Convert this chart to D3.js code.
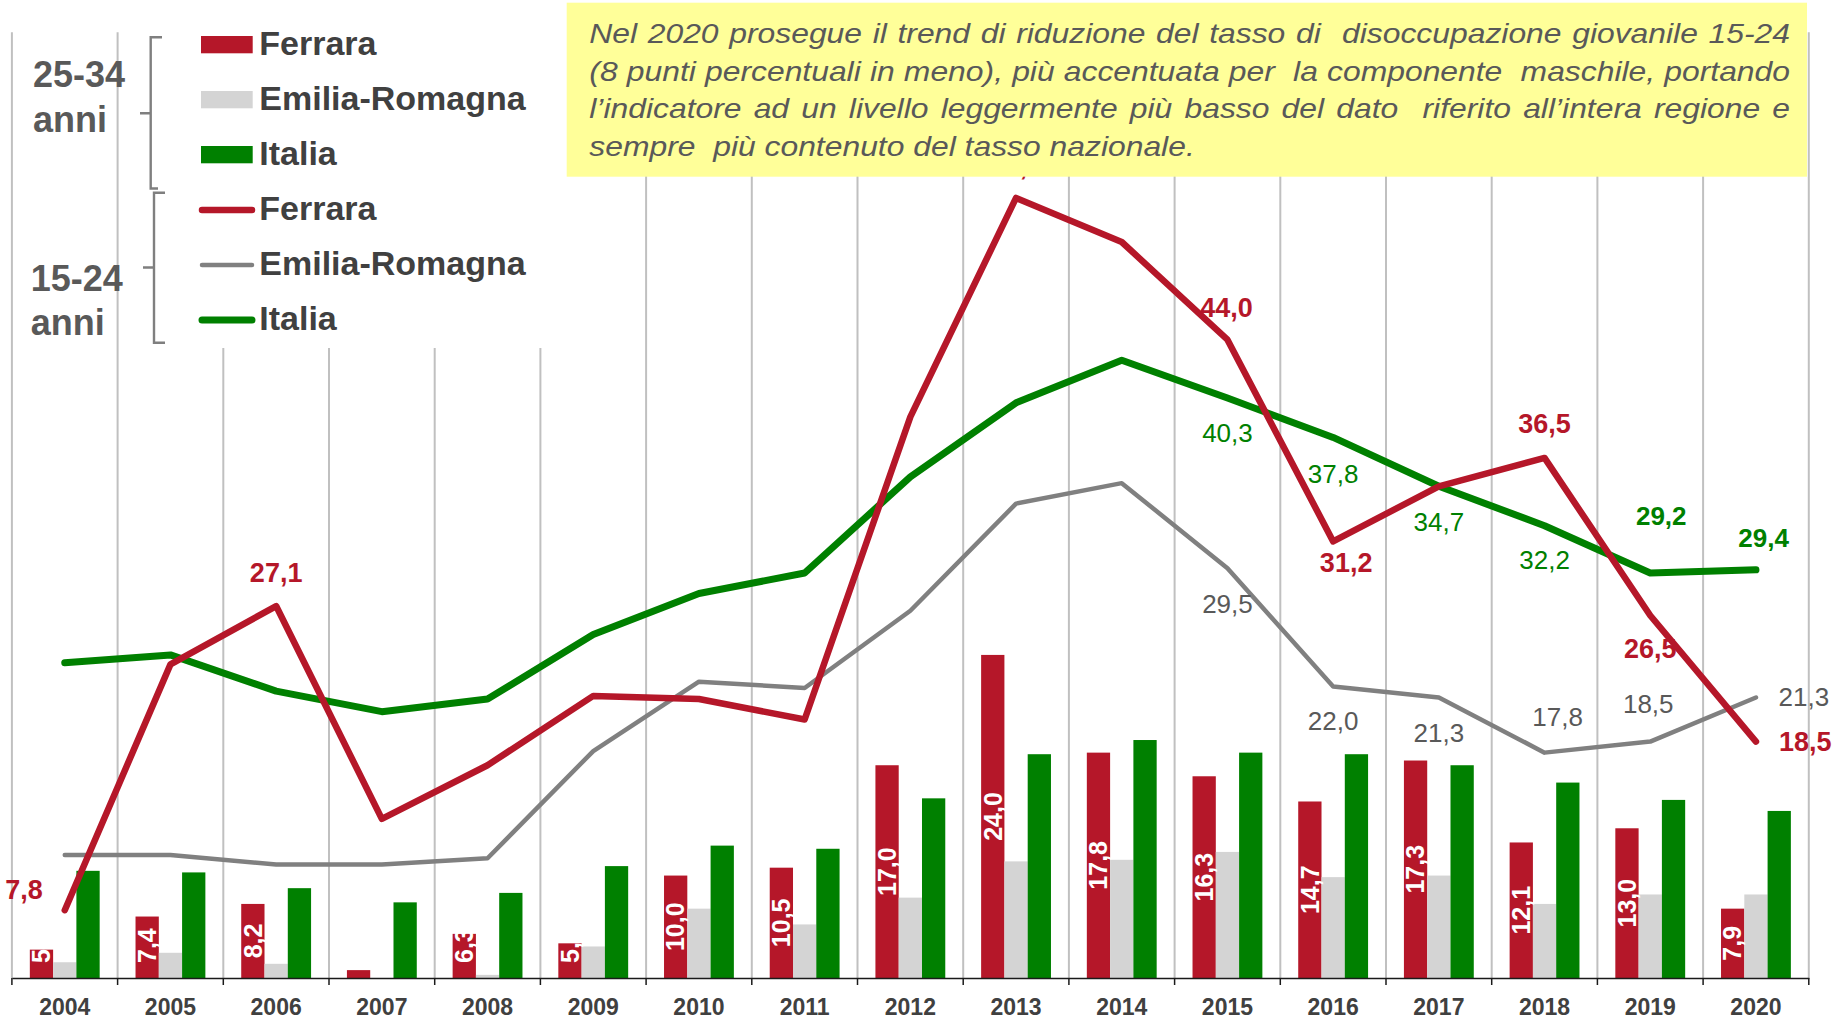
<!DOCTYPE html>
<html>
<head>
<meta charset="utf-8">
<script src="https://d3js.org/d3.v7.min.js"></script>
<style>
  body { margin: 0; background: #fff; }
  svg { display: block; font-family: "Liberation Sans", Arial, sans-serif; }
</style>
</head>
<body>
<div id="chart"></div>
<script>

// Data: unemployment rates (%)

const years = ["2004", "2005", "2006", "2007", "2008", "2009", "2010", "2011", "2012",
               "2013", "2014", "2015", "2016", "2017", "2018", "2019", "2020"];

// 25-34 anni (bars)
const ferrara25 = [5.3, 7.4, 8.2, 4.0, 6.3, 5.7, 10.0, 10.5, 17.0, 24.0, 17.8, 16.3, 14.7, 17.3, 12.1, 13.0, 7.9];
const emilia25  = [4.5, 5.1, 4.4, 3.4, 3.7, 5.5, 7.9, 6.9, 8.6, 10.9, 11.0, 11.5, 9.9, 10.0, 8.2, 8.8, 8.8];
const italia25  = [10.3, 10.2, 9.2, 8.3, 8.9, 10.6, 11.9, 11.7, 14.9, 17.7, 18.6, 17.8, 17.7, 17.0, 15.9, 14.8, 14.1];

// 15-24 anni (lines)
const ferrara15 = [7.8, 23.4, 27.1, 13.6, 17.0, 21.4, 21.2, 19.9, 39.1, 53.0, 50.2, 44.0, 31.2, 34.7, 36.5, 26.5, 18.5];
const emilia15  = [11.3, 11.3, 10.7, 10.7, 11.1, 17.9, 22.3, 21.9, 26.8, 33.6, 34.9, 29.5, 22.0, 21.3, 17.8, 18.5, 21.3];
const italia15  = [23.5, 24.0, 21.7, 20.4, 21.2, 25.3, 27.9, 29.2, 35.3, 40.0, 42.7, 40.3, 37.8, 34.7, 32.2, 29.2, 29.4];

const seriesNames = ["Ferrara", "Emilia-Romagna", "Italia"];
const groupNames = [["25-34", "anni"], ["15-24", "anni"]];

const noteLines = [
  "Nel 2020 prosegue il trend di riduzione del tasso di  disoccupazione giovanile 15-24",
  "(8 punti percentuali in meno), più accentuata per  la componente  maschile, portando",
  "l’indicatore ad un livello leggermente più basso del dato  riferito all’intera regione e",
  "sempre  più contenuto del tasso nazionale."
];


// Layout

const width = 1837;
const height = 1019;
const plot = {left: 11.9, right: 1808.8, top: 32.3, bottom: 978};
const yMin = 3.5;      // hidden value axis starts a bit above zero
const pxPerUnit = 15.76;

const colors = {ferrara: "#b51729", emilia: "#d4d4d4", italia: "#008000", emiliaLine: "#808080"};
const fmt = v => d3.format(".1f")(v).replace(".", ",");

const svg = d3.select("#chart")
  .append("svg")
  .attr("width", width)
  .attr("height", height);

svg.append("rect").attr("width", width).attr("height", height).attr("fill", "#fff");

// Scales
const x = d3.scaleBand()
  .domain(years)
  .range([plot.left, plot.right]);

const xIn = d3.scaleBand()
  .domain(["fe", "er", "it"])
  .range([0, x.bandwidth()])
  .paddingOuter(0.77);

const y = d3.scaleLinear()
  .domain([yMin, 60])
  .range([plot.bottom, plot.bottom - (60 - yMin) * pxPerUnit]);

const cx = i => x(years[i]) + x.bandwidth() / 2;

// Vertical gridlines between categories
const bounds = years.map(d => x(d)).concat([plot.right]);
svg.append("g")
  .selectAll("line")
  .data(bounds)
  .join("line")
    .attr("x1", d => d).attr("x2", d => d)
    .attr("y1", plot.top).attr("y2", plot.bottom)
    .attr("stroke", "#c0c0c0")
    .attr("stroke-width", 2);

/*

  Bars (25-34)

*/
const barSeries = [
  {key: "fe", values: ferrara25, color: colors.ferrara},
  {key: "er", values: emilia25, color: colors.emilia},
  {key: "it", values: italia25, color: colors.italia}
];

svg.append("g")
  .selectAll("g")
  .data(barSeries)
  .join("g")
    .attr("fill", s => s.color)
  .selectAll("rect")
  .data(s => s.values.map((v, i) => ({key: s.key, v: v, i: i})))
  .join("rect")
    .attr("x", d => x(years[d.i]) + xIn(d.key))
    .attr("y", d => Math.min(y(d.v), plot.bottom))
    .attr("width", xIn.bandwidth())
    .attr("height", d => Math.max(0, plot.bottom - y(d.v)));

// Category axis
svg.append("g")
  .attr("transform", `translate(0,${plot.bottom})`)
  .call(d3.axisBottom(x).tickSize(0).tickPadding(20.7))
  .call(g => g.select(".domain").attr("stroke", "#1a1a1a").attr("stroke-width", 1.5))
  .call(g => g.selectAll("text")
    .attr("font-family", "Liberation Sans, Arial, sans-serif")
    .attr("font-size", 23)
    .attr("font-weight", "bold")
    .attr("fill", "#404040"));

svg.append("g")
  .selectAll("line")
  .data(bounds)
  .join("line")
    .attr("x1", d => d).attr("x2", d => d)
    .attr("y1", plot.bottom).attr("y2", plot.bottom + 7)
    .attr("stroke", "#1a1a1a")
    .attr("stroke-width", 1.5);

/*

  Lines (15-24)

*/
const lineSeries = [
  {values: emilia15, color: colors.emiliaLine, w: 4.5},
  {values: italia15, color: colors.italia, w: 7},
  {values: ferrara15, color: colors.ferrara, w: 6.5}
];

const line = d3.line()
  .x((d, i) => cx(i))
  .y(d => y(d));

svg.append("g")
  .selectAll("path")
  .data(lineSeries)
  .join("path")
    .attr("d", s => line(s.values))
    .attr("fill", "none")
    .attr("stroke", s => s.color)
    .attr("stroke-width", s => s.w)
    .attr("stroke-linejoin", "round")
    .attr("stroke-linecap", "round");

// Line labels: placement is style only
const ferrara15Labels = [
  {i: 0, anchor: "end", dx: -22, dy: -11},
  {i: 2, anchor: "middle", dx: 0, dy: -24},
  {i: 9, anchor: "middle", dx: 0, dy: -23},
  {i: 11, anchor: "middle", dx: -1, dy: -23},
  {i: 12, anchor: "middle", dx: 13, dy: 31},
  {i: 14, anchor: "middle", dx: 0, dy: -25},
  {i: 15, anchor: "middle", dx: 0, dy: 42},
  {i: 16, anchor: "start", dx: 23, dy: 9.5}
];
const emilia15Labels = [
  {i: 11, anchor: "middle", dx: 0, dy: 45},
  {i: 12, anchor: "middle", dx: 0, dy: 43.5},
  {i: 13, anchor: "middle", dx: 0, dy: 45},
  {i: 14, anchor: "middle", dx: 13, dy: -27},
  {i: 15, anchor: "middle", dx: -2, dy: -29},
  {i: 16, anchor: "start", dx: 22.6, dy: 9}
];
const italia15Labels = [
  {i: 11, anchor: "middle", dx: 0, dy: 44},
  {i: 12, anchor: "middle", dx: 0, dy: 45.5},
  {i: 13, anchor: "middle", dx: 0, dy: 44.7},
  {i: 14, anchor: "middle", dx: 0, dy: 43.6},
  {i: 15, anchor: "middle", dx: 11, dy: -47.7, bold: true},
  {i: 16, anchor: "middle", dx: 7.6, dy: -23, bold: true}
];

function lineLabels(values, placements, color, boldAll, size) {
  svg.append("g")
    .selectAll("text")
    .data(placements)
    .join("text")
      .attr("x", p => cx(p.i) + p.dx)
      .attr("y", p => y(values[p.i]) + p.dy)
      .attr("text-anchor", p => p.anchor)
      .attr("font-size", p => (boldAll || p.bold) ? size : 26)
      .attr("font-weight", p => (boldAll || p.bold) ? "bold" : "normal")
      .attr("fill", color)
      .text(p => fmt(values[p.i]));
}
lineLabels(emilia15, emilia15Labels, "#595959", false, 26);
lineLabels(italia15, italia15Labels, colors.italia, false, 26);
lineLabels(ferrara15, ferrara15Labels, colors.ferrara, true, 27);

// White labels inside the Ferrara bars
const barFont = 25;
svg.append("g")
  .selectAll("text")
  .data(ferrara25)
  .join("text")
    .attr("font-size", barFont)
    .attr("font-weight", "bold")
    .attr("fill", "#fff")
    .attr("text-anchor", "middle")
    .text(d => fmt(d))
    .attr("transform", function(d, i) {
      const len = this.getComputedTextLength();
      const bx = x(years[i]) + xIn("fe") + xIn.bandwidth() / 2 + 0.35 * barFont;
      const mid = (y(d) + plot.bottom) / 2;
      const by = Math.min(mid, plot.bottom - 15 - len / 2);
      return `translate(${bx},${by}) rotate(-90)`;
    });

/*

  Legend

*/
const legend = svg.append("g");
legend.append("rect")
  .attr("x", 128).attr("y", 0)
  .attr("width", 440).attr("height", 348)
  .attr("fill", "#fff");

const legendRows = seriesNames.map((n, i) => ({name: n, kind: "bar", color: barSeries[i].color, row: i}))
  .concat(seriesNames.map((n, i) => ({
    name: n, kind: "line",
    color: [colors.ferrara, colors.emiliaLine, colors.italia][i],
    w: [6.5, 4.5, 7][i], row: i + 3
  })));

const rowBase = r => 55 + r * 55;

legend.selectAll(".sw-bar")
  .data(legendRows.filter(d => d.kind === "bar"))
  .join("rect")
    .attr("class", "sw-bar")
    .attr("x", 201).attr("y", d => rowBase(d.row) - 19)
    .attr("width", 51.7).attr("height", 17.3)
    .attr("fill", d => d.color);

legend.selectAll(".sw-line")
  .data(legendRows.filter(d => d.kind === "line"))
  .join("line")
    .attr("class", "sw-line")
    .attr("x1", 202).attr("x2", 252)
    .attr("y1", d => rowBase(d.row) - 10).attr("y2", d => rowBase(d.row) - 10)
    .attr("stroke", d => d.color)
    .attr("stroke-width", d => d.w)
    .attr("stroke-linecap", "round");

legend.selectAll(".lg-text")
  .data(legendRows)
  .join("text")
    .attr("class", "lg-text")
    .attr("x", 259.3)
    .attr("y", d => rowBase(d.row))
    .attr("font-size", 34)
    .attr("font-weight", "bold")
    .attr("fill", "#404040")
    .text(d => d.name);

// Group brackets
legend.append("path")
  .attr("d", "M162,37.3 H150.7 V113.3 H140 M150.7,113.3 V188.5 H158 M165,192.7 H154 V267.5 H143 M154,267.5 V342.7 H165")
  .attr("fill", "none")
  .attr("stroke", "#7f7f7f")
  .attr("stroke-width", 2.4);

const groupPos = [{x: 33, y: 87.3}, {x: 30.7, y: 290.7}];
groupNames.forEach((g, k) => {
  svg.append("text")
    .attr("x", groupPos[k].x)
    .attr("y", groupPos[k].y)
    .attr("font-size", 36)
    .attr("font-weight", "bold")
    .attr("fill", "#595959")
    .selectAll("tspan")
    .data(g)
    .join("tspan")
      .attr("x", groupPos[k].x)
      .attr("dy", (d, j) => j === 0 ? 0 : 44.3)
      .text(d => d);
});

/*

  Note box

*/
const note = svg.append("g");
note.append("rect")
  .attr("x", 566.7).attr("y", 2.7)
  .attr("width", 1807 - 566.7).attr("height", 174)
  .attr("fill", "#ffff99");

const noteLeft = 589.3, noteRight = 1790, noteTop = 43.3, noteStep = 37.4;
const noteStretch = 1.18;   // the text in the box is drawn a bit wide
const noteWidth = (noteRight - noteLeft) / noteStretch;

noteLines.forEach((ln, k) => {
  const t = note.append("text")
    .attr("transform", `translate(${noteLeft},${noteTop + k * noteStep}) scale(${noteStretch},1)`)
    .attr("font-size", 27)
    .attr("font-style", "italic")
    .attr("fill", "#595959")
    .style("white-space", "pre");

  if (k === noteLines.length - 1) {
    t.attr("x", 0).text(ln);
    return;
  }
  // justified line: measure each word, spread the rest over the gaps
  const words = ln.split(" ");
  const lens = words.map(w => {
    const tmp = t.append("tspan").text(w);
    const l = w ? tmp.node().getComputedTextLength() : 0;
    tmp.remove();
    return l;
  });
  const gap = (noteWidth - d3.sum(lens)) / (words.length - 1);
  let pos = 0;
  words.forEach((w, j) => {
    if (w) t.append("tspan").attr("x", pos).text(w);
    pos += lens[j] + gap;
  });
});

</script>
</body>
</html>
